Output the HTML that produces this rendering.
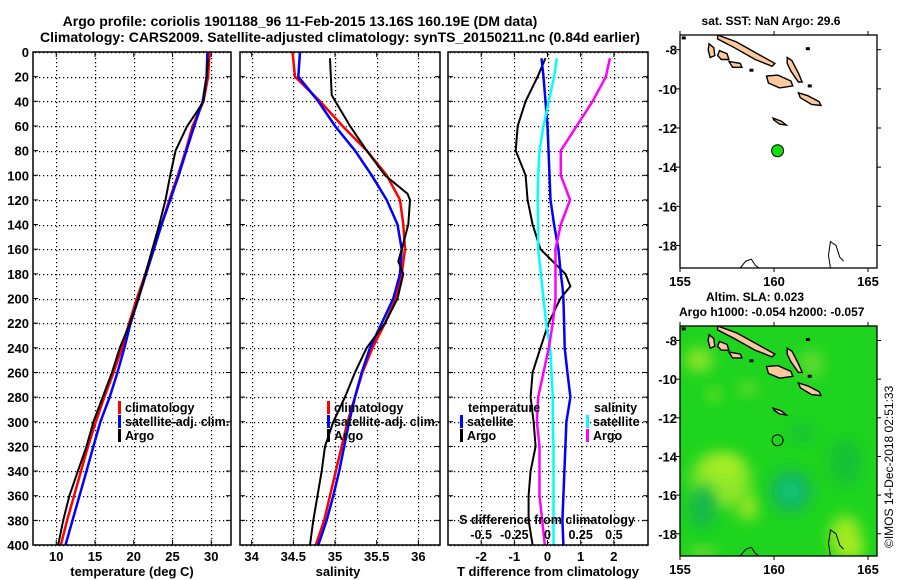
<!DOCTYPE html>
<html><head><meta charset="utf-8"><style>
body{margin:0;background:#fff}
svg{display:block;font-family:"Liberation Sans",sans-serif;font-weight:bold}
</style></head><body>
<svg id="s" width="900" height="580" viewBox="0 0 900 580">
<text x="300" y="26" font-size="14" text-anchor="middle">Argo profile: coriolis 1901188_96 11-Feb-2015 13.16S 160.19E (DM data)</text>
<text x="340" y="42" font-size="14" text-anchor="middle">Climatology: CARS2009. Satellite-adjusted climatology: synTS_20150211.nc (0.84d earlier)</text>
<text x="893" y="548" font-size="12" font-weight="normal" transform="rotate(-90 893 548)">©IMOS 14-Dec-2018 02:51:33</text>
</svg>
<script>
const depths=[0,20,40,60,80,100,120,140,160,180,200,220,240,260,280,300,320,340,360,380,400];
const tClim=[29.8,29.6,29.0,27.6,26.7,25.7,24.6,23.6,22.5,21.5,20.4,19.4,18.5,17.4,16.2,15.1,14.1,13.2,12.3,11.4,10.6];
const tSat=[29.5,29.4,28.9,27.8,26.8,25.8,24.7,23.6,22.6,21.6,20.6,19.6,18.8,17.9,16.9,15.7,14.8,13.9,13.0,12.1,11.2];
const argoDepths=[5,20,40,50,60,80,100,120,140,160,180,200,220,240,260,280,300,320,340,360,380,400];
const tArgo=[29.6,29.4,29.0,28.0,26.9,25.4,24.7,24.1,23.3,22.4,21.5,20.6,19.5,18.2,17.2,16.0,14.8,13.9,12.8,11.7,10.9,10.25];
const sClim=[34.49,34.52,34.82,35.09,35.38,35.62,35.78,35.82,35.84,35.80,35.73,35.60,35.45,35.33,35.24,35.15,35.08,35.01,34.94,34.87,34.77];
const sSat=[34.58,34.56,34.80,35.00,35.24,35.44,35.62,35.75,35.80,35.78,35.70,35.56,35.42,35.32,35.24,35.17,35.11,35.05,34.98,34.90,34.80];
const sArgoDepths=[5,35,60,80,100,115,120,140,160,170,180,200,220,240,260,280,300,320,340,360,380,400];
const sArgo=[34.94,34.96,35.18,35.38,35.60,35.87,35.90,35.88,35.80,35.76,35.82,35.75,35.60,35.38,35.24,35.12,34.98,34.88,34.84,34.79,34.74,34.70];
const dDepths=[5,20,40,60,80,100,120,140,160,180,190,200,220,240,260,280,300,320,340,360,380,400];
const dtArgo=[-0.06,-0.3,-0.66,-0.9,-0.96,-0.66,-0.6,-0.45,-0.21,0.54,0.69,0.39,0.03,-0.21,-0.45,-0.51,-0.42,-0.36,-0.51,-0.57,-0.57,-0.45];
const dtSat=[-0.18,-0.12,-0.06,0.0,0.03,0.06,0.09,0.2,0.33,0.4,0.45,0.48,0.5,0.52,0.6,0.69,0.57,0.54,0.51,0.48,0.45,0.48];
const dsSat=[0.07,0.05,0.01,-0.03,-0.06,-0.07,-0.075,-0.07,-0.07,-0.05,-0.04,-0.03,-0.01,0.02,0.03,0.04,0.04,0.045,0.045,0.045,0.045,0.045];
const dsArgo=[0.47,0.44,0.34,0.22,0.1,0.1,0.17,0.1,0.06,0.06,0.06,0.06,0.04,0.01,-0.03,-0.07,-0.08,-0.06,-0.06,-0.06,-0.04,-0.02];
const tTicks=[10,15,20,25,30], sTicks=[34,34.5,35,35.5,36], dTicks=[-2,-1,0,1,2], dsTicks=[-0.5,-0.25,0,0.25,0.5], dsTickLabels=["-0.5","-0.25","0","0.25","0.5"];
const depthTicks=[0,20,40,60,80,100,120,140,160,180,200,220,240,260,280,300,320,340,360,380,400];
const lonTicks=[155,160,165], latTicks=[-8,-10,-12,-14,-16,-18];
const argoLon=160.19, argoLat=-13.16;

(function(){
const NS="http://www.w3.org/2000/svg", svg=document.getElementById('s');
function el(tag,attrs,parent){const e=document.createElementNS(NS,tag);for(const k in attrs)e.setAttribute(k,attrs[k]);(parent||svg).appendChild(e);return e;}
const yTop=52,yBot=545;
const yD=d=>yTop+(d/400)*(yBot-yTop);
function panel(x0,x1,xmin,xmax,name){
  const xs=v=>x0+(v-xmin)/(xmax-xmin)*(x1-x0);
  const g=el('g',{});
  
  
  el('rect',{x:x0,y:yTop,width:x1-x0,height:yBot-yTop,fill:'#fff',stroke:'none'},g);
  return {g,xs};
}
function grid(p,x0,x1,ticks,labels){
  let d='';
  ticks.forEach(t=>{const x=Math.round(p.xs(t));for(let y=yTop+2;y<yBot-1;y+=4)d+='M'+x+' '+y+'h1.2v1.2h-1.2z';});
  depthTicks.forEach(dd=>{const y=Math.round(yD(dd));for(let x=x0+2;x<x1-1;x+=4)d+='M'+x+' '+y+'h1.2v1.2h-1.2z';});
  const gp=el('path',{d:d,fill:'#000'},p.g);
  
  
  ticks.forEach(t=>{const x=p.xs(t);
    el('line',{x1:x,x2:x,y1:yBot,y2:yBot-5,stroke:'#000'},p.g);el('line',{x1:x,x2:x,y1:yTop,y2:yTop+5,stroke:'#000'},p.g);});
  depthTicks.forEach(dd=>{const y=yD(dd);
    el('line',{x1:x0,x2:x0+5,y1:y,y2:y,stroke:'#000'},p.g);el('line',{x1:x1-5,x2:x1,y1:y,y2:y,stroke:'#000'},p.g);});
  if(labels) ticks.forEach((t,i)=>{const tx=el('text',{x:p.xs(t),y:yBot+16,'font-size':13,'text-anchor':'middle'},p.g);tx.textContent=labels[i];
    
    });
}
function frame(p,x0,x1){el('rect',{x:x0,y:yTop,width:x1-x0,height:yBot-yTop,fill:'none',stroke:'#000','stroke-width':1.5},p.g);}
function line(p,xv,dv,color,w,name){
  const pts=xv.map((v,i)=>p.xs(v).toFixed(1)+','+yD(dv[i]).toFixed(1)).join(' ');
  const l=el('polyline',{points:pts,fill:'none',stroke:color,'stroke-width':w},p.g);
  
  
}
function legend(g,x,y,items){
  items.forEach((it,i)=>{const yy=y+i*14;el('rect',{x:x,y:yy-11,width:3,height:13,fill:it[1]},g);
    const t=el('text',{x:x+7,y:yy,'font-size':12.5},g);t.textContent=it[0];
    
    });
}
depthTicks.forEach(d=>{const t=el('text',{x:29,y:yD(d)+5,'font-size':13,'text-anchor':'end'});t.textContent=d;
  
  });
const p1=panel(33,231,7.0,32.55,'temperature-panel');
grid(p1,33,231,tTicks,tTicks.map(String));
line(p1,tClim,depths,'#f00',2.5,'temp-climatology-line');
line(p1,tSat,depths,'#00f',2.5,'temp-satellite-line');
line(p1,tArgo,argoDepths,'#000',2,'temp-argo-line');
legend(p1.g,118,412,[['climatology','#f00'],['satellite-adj. clim.','#00f'],['Argo','#000']]);
frame(p1,33,231);
el('text',{x:132,y:576,'font-size':13,'text-anchor':'middle'}).textContent='temperature (deg C)';
const p2=panel(240,440,33.86,36.26,'salinity-panel');
grid(p2,240,440,sTicks,sTicks.map(String));
line(p2,sClim,depths,'#f00',2.5,'sal-climatology-line');
line(p2,sSat,depths,'#00f',2.5,'sal-satellite-line');
line(p2,sArgo,sArgoDepths,'#000',2,'sal-argo-line');
legend(p2.g,327,412,[['climatology','#f00'],['satellite-adj. clim.','#00f'],['Argo','#000']]);
frame(p2,240,440);
el('text',{x:338,y:576,'font-size':13,'text-anchor':'middle'}).textContent='salinity';
const p3=panel(448,648,-3.0,3.03,'difference-panel');
grid(p3,448,648,dTicks,dTicks.map(String));
const dsT=dsArgo.map(v=>v*4), dsS=dsSat.map(v=>v*4);
line(p3,dtArgo,dDepths,'#000',2,'tdiff-argo-line');
line(p3,dtSat,dDepths,'#00f',2.5,'tdiff-satellite-line');
line(p3,dsS,dDepths,'#0ff',2.5,'sdiff-satellite-line');
line(p3,dsT,dDepths,'#f0f',2.5,'sdiff-argo-line');
el('text',{x:468,y:412,'font-size':12.5},p3.g).textContent='temperature';
legend(p3.g,460,426,[['satellite','#00f'],['Argo','#000']]);
el('text',{x:594,y:412,'font-size':12.5},p3.g).textContent='salinity';
legend(p3.g,586,426,[['satellite','#0ff'],['Argo','#f0f']]);
el('text',{x:547,y:524,'font-size':12.5,'text-anchor':'middle'},p3.g).textContent='S difference from climatology';
dsTicks.forEach((t,i)=>{const tx=el('text',{x:p3.xs(t*4),y:539,'font-size':12.5,'text-anchor':'middle'},p3.g);tx.textContent=dsTickLabels[i];});
frame(p3,448,648);
el('text',{x:548,y:576,'font-size':13,'text-anchor':'middle'}).textContent='T difference from climatology';

const defs=el('defs',{});const f=el('filter',{id:'bl',x:'-50%',y:'-50%',width:'200%',height:'200%'},defs);el('feGaussianBlur',{stdDeviation:7},f);
function map(y0,y1,name,green){
  const x0=680,x1=877;
  const lonX=v=>680+(v-155)*18.8;
  const sc=(y1-y0)/(19.15-7.25);
  const ly=v=>y0+(-7.25-v)*sc;
  const g=el('g',{});
  
  
  const cp=el('clipPath',{id:'cp'+y0},defs);el('rect',{x:x0,y:y0,width:x1-x0,height:y1-y0},cp);
  const inner=el('g',{'clip-path':'url(#cp'+y0+')'},g);
  if(green){
    el('rect',{x:x0,y:y0,width:x1-x0,height:y1-y0,fill:'#1ed41e'},inner);
    const blobs=[[157.2,-15.2,30,28,'#8ee62a'],[157.3,-14.6,16,10,'#a8ee22'],[158.6,-16.6,10,14,'#9ae628'],[156.2,-16.6,14,22,'#14b84a'],[160.9,-15.8,22,22,'#14b858'],[160.9,-15.8,9,9,'#10c688'],[163.8,-18.2,16,22,'#a0ea24'],[164.3,-18.8,8,6,'#c4f020'],[156,-9.0,14,12,'#8ee42a'],[156.8,-10.8,6,6,'#8ee42a'],[162,-9.2,12,14,'#60dc30'],[163.8,-14.3,16,24,'#18c034'],[161.5,-12.8,14,10,'#18c434'],[158.6,-10.5,8,6,'#80e030'],[156.2,-19,14,6,'#70dc30']];
    blobs.forEach(b=>{el('ellipse',{cx:lonX(b[0]),cy:ly(b[1]),rx:b[2],ry:b[3],fill:b[4],filter:'url(#bl)'},inner);});
  } else el('rect',{x:x0,y:y0,width:x1-x0,height:y1-y0,fill:'#fff'},inner);
  const isl=[
    [[157.0,-7.25],[158.0,-7.6],[159.2,-8.25],[160.05,-8.7],[159.9,-8.85],[159.0,-8.5],[157.8,-7.85],[157.0,-7.45]],
    [[160.7,-8.4],[160.95,-8.55],[161.3,-9.2],[161.5,-9.65],[161.3,-9.65],[160.9,-9.1],[160.7,-8.7]],
    [[159.6,-9.35],[160.2,-9.3],[160.9,-9.6],[161.0,-9.85],[160.3,-9.95],[159.7,-9.7]],
    [[161.3,-10.2],[161.8,-10.35],[162.4,-10.65],[162.5,-10.85],[162.0,-10.8],[161.4,-10.45]],
    [[156.55,-7.7],[156.8,-7.9],[156.85,-8.3],[156.6,-8.4],[156.5,-8.0]],
    [[157.1,-8.05],[157.5,-8.2],[157.6,-8.5],[157.2,-8.5],[157.0,-8.3]],
    [[157.6,-8.6],[158.2,-8.7],[158.3,-8.9],[157.8,-8.9]],
    [[159.95,-11.5],[160.4,-11.65],[160.65,-11.85],[160.3,-11.8],[160.0,-11.6]]];
  isl.forEach(poly=>{el('polygon',{points:poly.map(p=>lonX(p[0]).toFixed(1)+','+ly(p[1]).toFixed(1)).join(' '),fill:'#fcc89c',stroke:'#000','stroke-width':1.4},inner);});
  [[158.8,-9.05],[155.2,-7.4],[161.8,-7.95],[161.9,-9.85]].forEach(p=>el('rect',{x:lonX(p[0])-2,y:ly(p[1])-1.5,width:4,height:3,fill:'#000'},inner));
  const coasts=[[[158.2,-19.15],[158.5,-18.8],[158.8,-18.7],[159.0,-19.0],[159.2,-19.15]],[[163.0,-19.15],[162.9,-18.5],[163.0,-17.8],[163.3,-18.0],[163.5,-18.6],[163.7,-18.8]]];
  coasts.forEach(c=>el('polyline',{points:c.map(p=>lonX(p[0]).toFixed(1)+','+ly(p[1]).toFixed(1)).join(' '),fill:'none',stroke:'#000','stroke-width':1},inner));
  const mk=el('circle',{cx:lonX(argoLon),cy:ly(argoLat),r:green?5.5:6,fill:green?'none':'#11dd11',stroke:'#000'},g);
  
  
  el('rect',{x:x0,y:y0,width:x1-x0,height:y1-y0,fill:'none',stroke:'#000','stroke-width':1.3},g);
  lonTicks.forEach(v=>{const x=lonX(v);el('line',{x1:x,x2:x,y1:y0,y2:y0-4,stroke:'#000'},g);el('line',{x1:x,x2:x,y1:y1,y2:y1+4,stroke:'#000'},g);
    const t=el('text',{x:x,y:y1+18,'font-size':13,'text-anchor':'middle'},g);t.textContent=v;});
  latTicks.forEach(v=>{const y=ly(v);el('line',{x1:x0,x2:x0-4,y1:y,y2:y,stroke:'#000'},g);el('line',{x1:x1,x2:x1+4,y1:y,y2:y,stroke:'#000'},g);
    const t=el('text',{x:677,y:y+5,'font-size':13,'text-anchor':'end'},g);t.textContent=v;});
}
map(35,268,'sst-map',false);
map(326,556,'sla-map',true);
el('text',{x:771,y:25,'font-size':12,'text-anchor':'middle'}).textContent='sat. SST: NaN Argo: 29.6';
el('text',{x:706,y:301,'font-size':12}).textContent='Altim. SLA: 0.023';
el('text',{x:679,y:316,'font-size':12}).textContent='Argo h1000: -0.054 h2000: -0.057';
})();
</script>
</body></html>
